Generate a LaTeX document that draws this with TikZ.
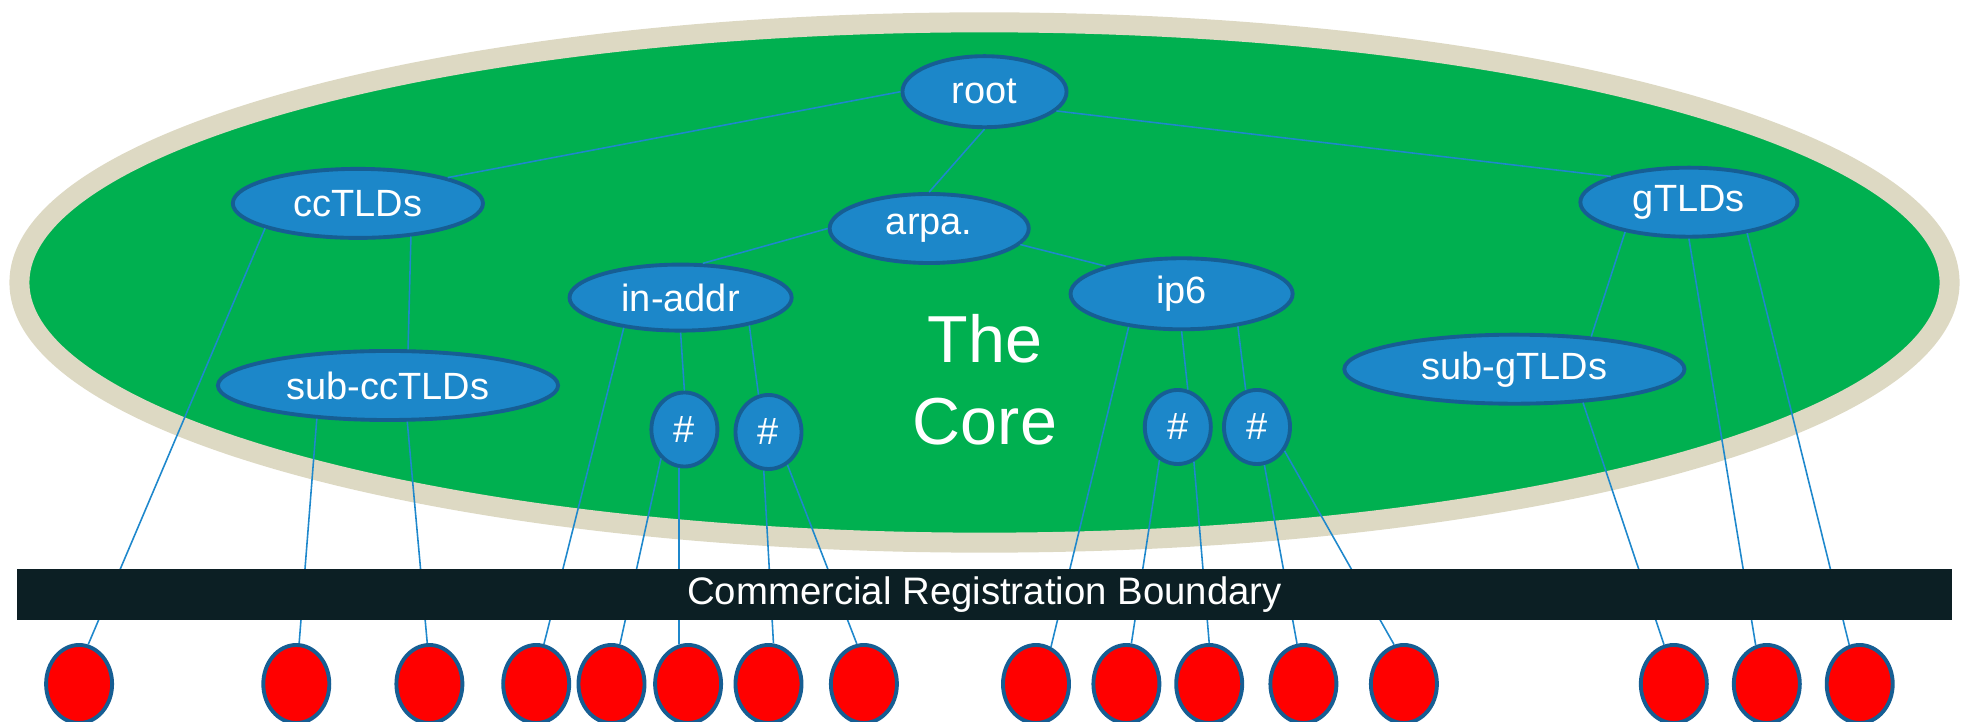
\documentclass[tikz,border=0pt]{standalone}
\usepackage{fontspec}
\setmainfont{Liberation Sans}
\usetikzlibrary{shapes.geometric}
\definecolor{coregreen}{RGB}{0,176,80}
\definecolor{rimtan}{RGB}{221,217,195}
\definecolor{nodeblue}{RGB}{28,135,201}
\definecolor{edgeblue}{RGB}{22,94,147}
\definecolor{linkblue}{RGB}{31,136,204}
\definecolor{barblack}{RGB}{12,31,36}

\begin{document}
\begin{tikzpicture}[x=0.01cm,y=-0.01cm,
  dom/.style={ellipse,draw=edgeblue,line width=1.1pt,fill=nodeblue,text=white,inner sep=0pt,
    minimum height=0.69cm,font=\fontsize{10.8}{13}\selectfont},
  hash/.style={dom,minimum width=0.66cm,minimum height=0.74cm},
  leaf/.style={ellipse,draw=edgeblue,line width=1.1pt,fill=red,inner sep=0pt,
    minimum width=0.66cm,minimum height=0.78cm},
  link/.style={linkblue,line width=0.45pt}]

\useasboundingbox (0,0) rectangle (1969,722);

\draw[rimtan,line width=0.2cm,fill=coregreen] (984.5,282.5) ellipse [x radius=9.645cm,y radius=2.6cm];

\node[text=white,align=center,font=\fontsize{18.9}{23.2}\selectfont] (core) at (985,380) {The\\Core};

\node[dom,minimum width=1.64cm,minimum height=0.71cm] (root) at (984.5,91.7) {root};
\node[dom,minimum width=2.50cm] (ccTLDs) at (357.9,203.4) {ccTLDs};
\node[dom,minimum width=1.99cm] (arpa) at (929.2,228.5) {arpa.};
\node[dom,minimum width=2.22cm,minimum height=0.66cm] (inaddr) at (680.6,297.6) {in-addr};
\node[dom,minimum width=2.22cm,minimum height=0.71cm] (ip6) at (1181.6,293.8) {ip6};
\node[dom,minimum width=2.17cm] (gTLDs) at (1688.9,202.2) {gTLDs};
\node[dom,minimum width=3.40cm] (subcc) at (388,385.5) {sub-ccTLDs};
\node[dom,minimum width=3.40cm] (subg) at (1514.4,369.2) {sub-gTLDs};

\node[hash] (h1) at (684.4,429.5) {\#};
\node[hash] (h2) at (768.5,432) {\#};
\node[hash] (h3) at (1177.8,427) {\#};
\node[hash] (h4) at (1257,427) {\#};

\node[leaf] (r1) at (79.1,684) {};
\node[leaf] (r2) at (296.3,684) {};
\node[leaf] (r3) at (429.4,684) {};
\node[leaf] (r4) at (536.2,684) {};
\node[leaf] (r5) at (611.5,684) {};
\node[leaf] (r6) at (688.1,684) {};
\node[leaf] (r7) at (768.5,684) {};
\node[leaf] (r8) at (863.9,684) {};
\node[leaf] (r9) at (1036,684) {};
\node[leaf] (r10) at (1126.4,684) {};
\node[leaf] (r11) at (1209.2,684) {};
\node[leaf] (r12) at (1303.4,684) {};
\node[leaf] (r13) at (1403.9,684) {};
\node[leaf] (r14) at (1673.8,684) {};
\node[leaf] (r15) at (1766.8,684) {};
\node[leaf] (r16) at (1859.7,684) {};

\draw[link] (root.180) -- (ccTLDs.north east);
\draw[link] (root.-15) -- (gTLDs.north west);
\draw[link] (root.south) -- (arpa.north);
\draw[link] (arpa.west) -- (inaddr.57);
\draw[link] (arpa.-10) -- (ip6.160);
\draw[link] (ccTLDs.-32) -- (subcc.61);
\draw[link] (ccTLDs.195) -- (r1.77);
\draw[link] (subcc.205) -- (r2.86);
\draw[link] (subcc.-62) -- (r3.93);
\draw[link] (inaddr.208) -- (r4.79);
\draw[link] (inaddr.south) -- (h1.north);
\draw[link] (inaddr.-22) -- (h2.105);
\draw[link] (h1.231) -- (r5.78);
\draw[link] (h1.-98) -- (r6.103);
\draw[link] (h2.-97) -- (r7.83);
\draw[link] (h2.-60) -- (r8.100);
\draw[link] (ip6.212) -- (r9.68);
\draw[link] (ip6.south) -- (h3.75);
\draw[link] (ip6.-30) -- (h4.107);
\draw[link] (h3.241) -- (r10.83);
\draw[link] (h3.-65) -- (r11.90);
\draw[link] (h4.-79) -- (r12.99);
\draw[link] (h4.-41) -- (r13.104);
\draw[link] (gTLDs.205) -- (subg.23);
\draw[link] (subg.-26) -- (r14.104);
\draw[link] (gTLDs.south) -- (r15.106);
\draw[link] (gTLDs.-28) -- (r16.105);

\node[fill=barblack,text=white,minimum width=19.34cm,minimum height=0.515cm,inner sep=0pt,
  font=\fontsize{10.9}{13}\selectfont] (crb) at (984.5,594.5) {Commercial Registration Boundary};

\end{tikzpicture}
\end{document}
